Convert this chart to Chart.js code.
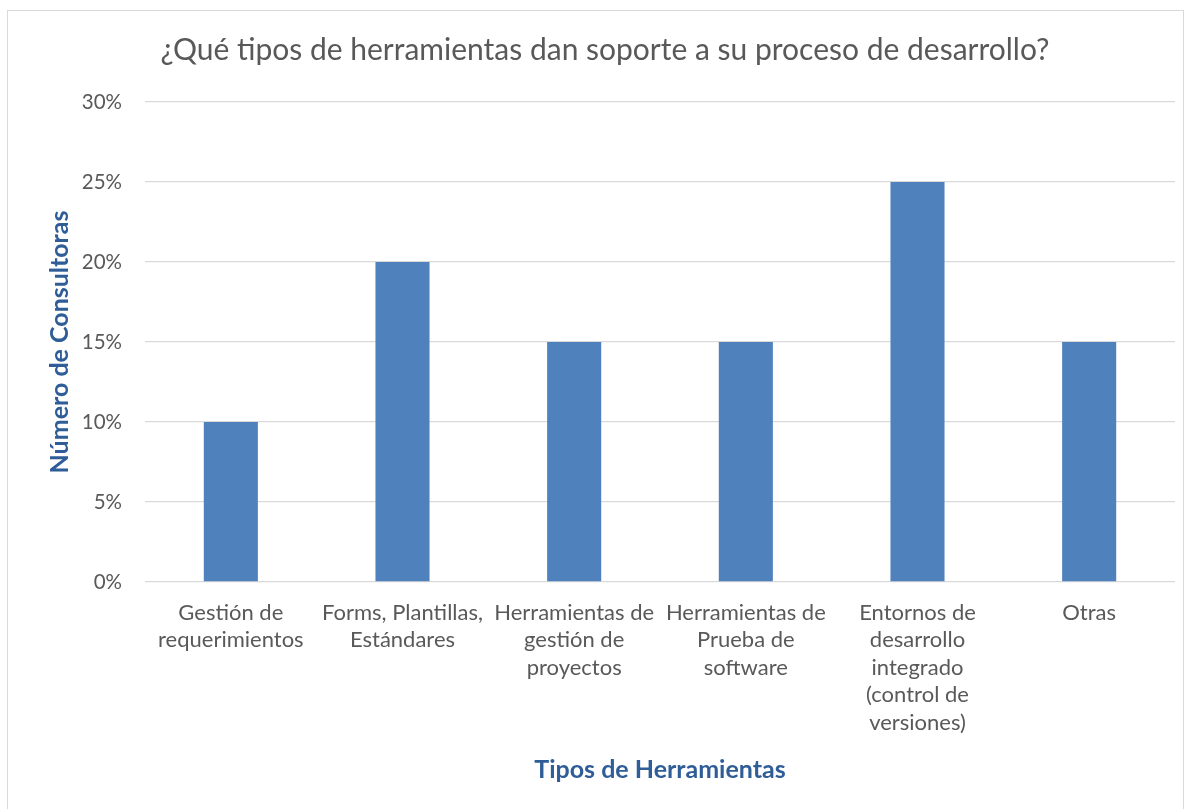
<!DOCTYPE html>
<html>
<head>
<meta charset="utf-8">
<script src="https://cdn.jsdelivr.net/npm/chart.js@4.4.0/dist/chart.umd.min.js"></script>
<style>
  html, body { margin: 0; padding: 0; background: #fff; }
  #wrap { position: absolute; left: 0; top: 0; width: 1192px; height: 809px; }
  #frame { position: absolute; left: 7px; top: 10px; width: 1177px; height: 810px; border: 1px solid #d9d9d9; box-sizing: border-box; }
  canvas { position: absolute; left: 0; top: 0; }
</style>
</head>
<body>
<div id="wrap">
  <div id="frame"></div>
  <canvas id="c" width="1192" height="809"></canvas>
</div>
<script>
const chartTitle = "¿Qué tipos de herramientas dan soporte a su proceso de desarrollo?";
const categories = [
  ["Gestión de", "requerimientos"],
  ["Forms, Plantillas,", "Estándares"],
  ["Herramientas de", "gestión de", "proyectos"],
  ["Herramientas de", "Prueba de", "software"],
  ["Entornos de", "desarrollo", "integrado", "(control de", "versiones)"],
  ["Otras"]
];
const percentValues = [10, 20, 15, 15, 25, 15];
const yTickMin = 0, yTickMax = 30, yTickStep = 5;
const xAxisTitle = "Tipos de Herramientas";
const yAxisTitle = "Número de Consultoras";

const FONT = "Lato, 'Open Sans', sans-serif";
new Chart(document.getElementById('c'), {
  type: 'bar',
  data: {
    labels: categories,
    datasets: [{
      data: percentValues,
      backgroundColor: '#4F81BD',
      borderWidth: 0,
      categoryPercentage: 1.0,
      barPercentage: 0.315
    }]
  },
  options: {
    responsive: false,
    animation: false,
    layout: { padding: { left: 35, right: 17, top: 0, bottom: 0 } },
    plugins: {
      legend: { display: false },
      tooltip: { enabled: false },
      title: {
        display: true,
        text: chartTitle,
        color: '#595959',
        font: { family: FONT, size: 30, weight: 'normal', lineHeight: 1.2 },
        padding: { top: 32, bottom: 34 }
      }
    },
    scales: {
      y: {
        min: yTickMin, max: yTickMax,
        ticks: {
          stepSize: yTickStep,
          callback: v => v + '%',
          color: '#595959',
          font: { family: FONT, size: 20.5 },
          padding: 23
        },
        grid: { color: '#D9D9D9', lineWidth: 1.3, drawTicks: false },
        border: { display: false },
        title: {
          display: true, text: yAxisTitle, color: '#2F5D97',
          font: { family: FONT, size: 25, weight: 'bold', lineHeight: 1.2 },
          padding: { top: 10, bottom: 0 }
        },
        afterFit: s => { s.width = 110; }
      },
      x: {
        ticks: {
          color: '#595959',
          font: { family: FONT, size: 22, lineHeight: 1.25 },
          padding: 17,
          maxRotation: 0, autoSkip: false
        },
        grid: { display: false, drawTicks: false },
        border: { display: false },
        title: {
          display: true, text: xAxisTitle, color: '#2F5D97',
          font: { family: FONT, size: 25, weight: 'bold', lineHeight: 1.2 },
          padding: { top: 0, bottom: 24 }
        },
        afterFit: s => { s.height = 227; }
      }
    }
  }
});
</script>
</body>
</html>
